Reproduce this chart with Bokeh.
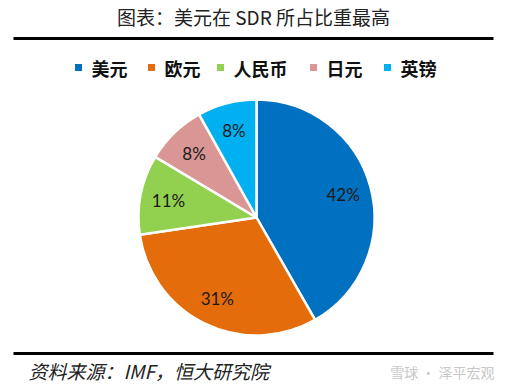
import math
from bokeh.plotting import figure
from bokeh.models import Range1d, ColumnDataSource
from bokeh.core.properties import value
from bokeh.embed import file_html
from bokeh.resources import INLINE

# ---- data ----
currencies = ["美元", "欧元", "人民币", "日元", "英镑"]
shares = [41.73, 30.93, 10.92, 8.33, 8.09]
labels = ["42%", "31%", "11%", "8%", "8%"]
colors = ["#0070C0", "#E46C0A", "#92D050", "#D99694", "#00B0F0"]
title_text = "图表：美元在 SDR 所占比重最高"
source_text = "资料来源：IMF，恒大研究院"
watermark_text = "雪球 · 泽平宏观"

# ---- layout (page pixel coords; y measured from top) ----
W, H = 506, 384
def Y(page_y):
    return H - page_y

cx, cy, R = 256, Y(217), 118
label_frac = 0.76
legend_sq_x = [78, 151, 220, 313, 387]
legend_y = Y(67)

p = figure(width=W, height=H, output_backend="svg", toolbar_location=None,
           x_range=Range1d(0, W), y_range=Range1d(0, H),
           min_border=0, outline_line_color=None,
           x_axis_location=None, y_axis_location=None)
p.xgrid.visible = False
p.ygrid.visible = False
p.background_fill_color = "white"
p.border_fill_color = "white"

# wedges
total = sum(shares)
starts, ends, lx, ly = [], [], [], []
cum = 0.0
for s in shares:
    a0 = math.pi / 2 - 2 * math.pi * cum / total
    cum += s
    a1 = math.pi / 2 - 2 * math.pi * cum / total
    starts.append(a0)
    ends.append(a1)
    mid = (a0 + a1) / 2
    lx.append(cx + label_frac * R * math.cos(mid))
    ly.append(cy + label_frac * R * math.sin(mid))

src = ColumnDataSource(dict(start=starts, end=ends, color=colors, lx=lx, ly=ly, label=labels))
p.wedge(x=cx, y=cy, radius=R, start_angle="start", end_angle="end", direction="clock",
        fill_color="color", line_color="white", line_width=2.5, source=src)
p.text(x="lx", y="ly", text="label", source=src, text_align="center", text_baseline="middle",
       text_font=value("Lato"), text_font_size="17px", text_color="#1a1a1a")

# title and rules
p.text(x=[253], y=[Y(16)], text=[title_text], text_align="center", text_baseline="middle",
       text_font=value("Noto Sans CJK SC"), text_font_size="19px", text_color="#222222")
p.line(x=[13, 493], y=[Y(38), Y(38)], line_color="black", line_width=3)
p.line(x=[13, 493], y=[Y(353), Y(353)], line_color="black", line_width=3)

# legend
p.rect(x=legend_sq_x, y=[legend_y] * len(currencies), width=7, height=7, fill_color=colors,
       line_color=None)
p.text(x=[x + 13 for x in legend_sq_x], y=[legend_y] * len(currencies), text=currencies,
       text_align="left", text_baseline="middle", text_font=value("Noto Sans CJK SC"),
       text_font_size="18px", text_font_style="bold", text_color="#111111")

# source & watermark
p.text(x=[28], y=[Y(370)], text=[source_text], text_align="left", text_baseline="middle",
       text_font=value("Noto Sans CJK SC"), text_font_size="19px", text_font_style="italic",
       text_color="#222222")
p.text(x=[494], y=[Y(371)], text=[watermark_text], text_align="right", text_baseline="middle",
       text_font=value("Noto Sans CJK SC"), text_font_size="14px", text_color="#c8c8c8")

open("out.html", "w").write(file_html(p, INLINE))
